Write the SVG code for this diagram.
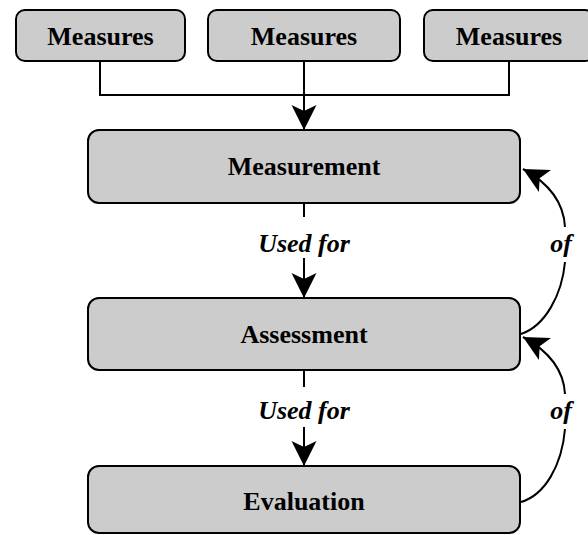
<svg xmlns="http://www.w3.org/2000/svg" width="588" height="535" viewBox="0 0 588 535">
  <style>
    .box { fill: #cccccc; stroke: #000000; stroke-width: 2; }
    .lbl { font-family: "Liberation Serif", "Times New Roman", serif; font-weight: bold; font-size: 26px; fill: #000000; text-anchor: middle; }
    .it { font-family: "Liberation Serif", "Times New Roman", serif; font-weight: bold; font-style: italic; font-size: 26px; fill: #000000; text-anchor: middle; }
    .con { fill: none; stroke: #000000; stroke-width: 2; }
  </style>
  <defs>
    <marker id="arr" viewBox="-27 -14 29 28" markerWidth="29" markerHeight="28" refX="0" refY="0" orient="auto" markerUnits="userSpaceOnUse">
      <path d="M0,0 L-25,-12.5 L-19,0 L-25,12.5 Z" fill="#000000"/>
    </marker>
  </defs>
  <rect width="588" height="535" fill="#ffffff"/>

  <g id="connectors">
    <path class="con" d="M100,61 V95 H509 V61"/>
    <path class="con" d="M304,61 V130" marker-end="url(#arr)"/>
    <path class="con" d="M304,203 V217 M304,258 V298" marker-end="url(#arr)"/>
    <path class="con" d="M304,370 V387 M304,427 V466" marker-end="url(#arr)"/>
    <path class="con" d="M521,334 C545,326 562,295 565,262 M565,227 C564,208 554,186 523,169" marker-end="url(#arr)"/>
    <path class="con" d="M521,502 C545,495 562,465 565,429 M565,394 C564,375 554,354 523,337" marker-end="url(#arr)"/>
    <text class="it" x="304" y="252">Used for</text>
    <text class="it" x="304" y="419">Used for</text>
    <text class="it" x="561" y="252">of</text>
    <text class="it" x="561" y="419">of</text>
  </g>

  <g id="measures1">
    <rect class="box" x="16" y="10" width="169" height="51" rx="9"/>
    <text class="lbl" x="100.5" y="45">Measures</text>
  </g>
  <g id="measures2">
    <rect class="box" x="208" y="10" width="192" height="51" rx="9"/>
    <text class="lbl" x="304" y="45">Measures</text>
  </g>
  <g id="measures3">
    <rect class="box" x="424" y="10" width="170" height="51" rx="9"/>
    <text class="lbl" x="509" y="45">Measures</text>
  </g>
  <g id="measurement">
    <rect class="box" x="88" y="130" width="432" height="73" rx="11"/>
    <text class="lbl" x="304" y="175">Measurement</text>
  </g>
  <g id="assessment">
    <rect class="box" x="88" y="298" width="432" height="72" rx="11"/>
    <text class="lbl" x="304" y="343">Assessment</text>
  </g>
  <g id="evaluation">
    <rect class="box" x="88" y="466" width="432" height="67" rx="11"/>
    <text class="lbl" x="304" y="510">Evaluation</text>
  </g>
</svg>
